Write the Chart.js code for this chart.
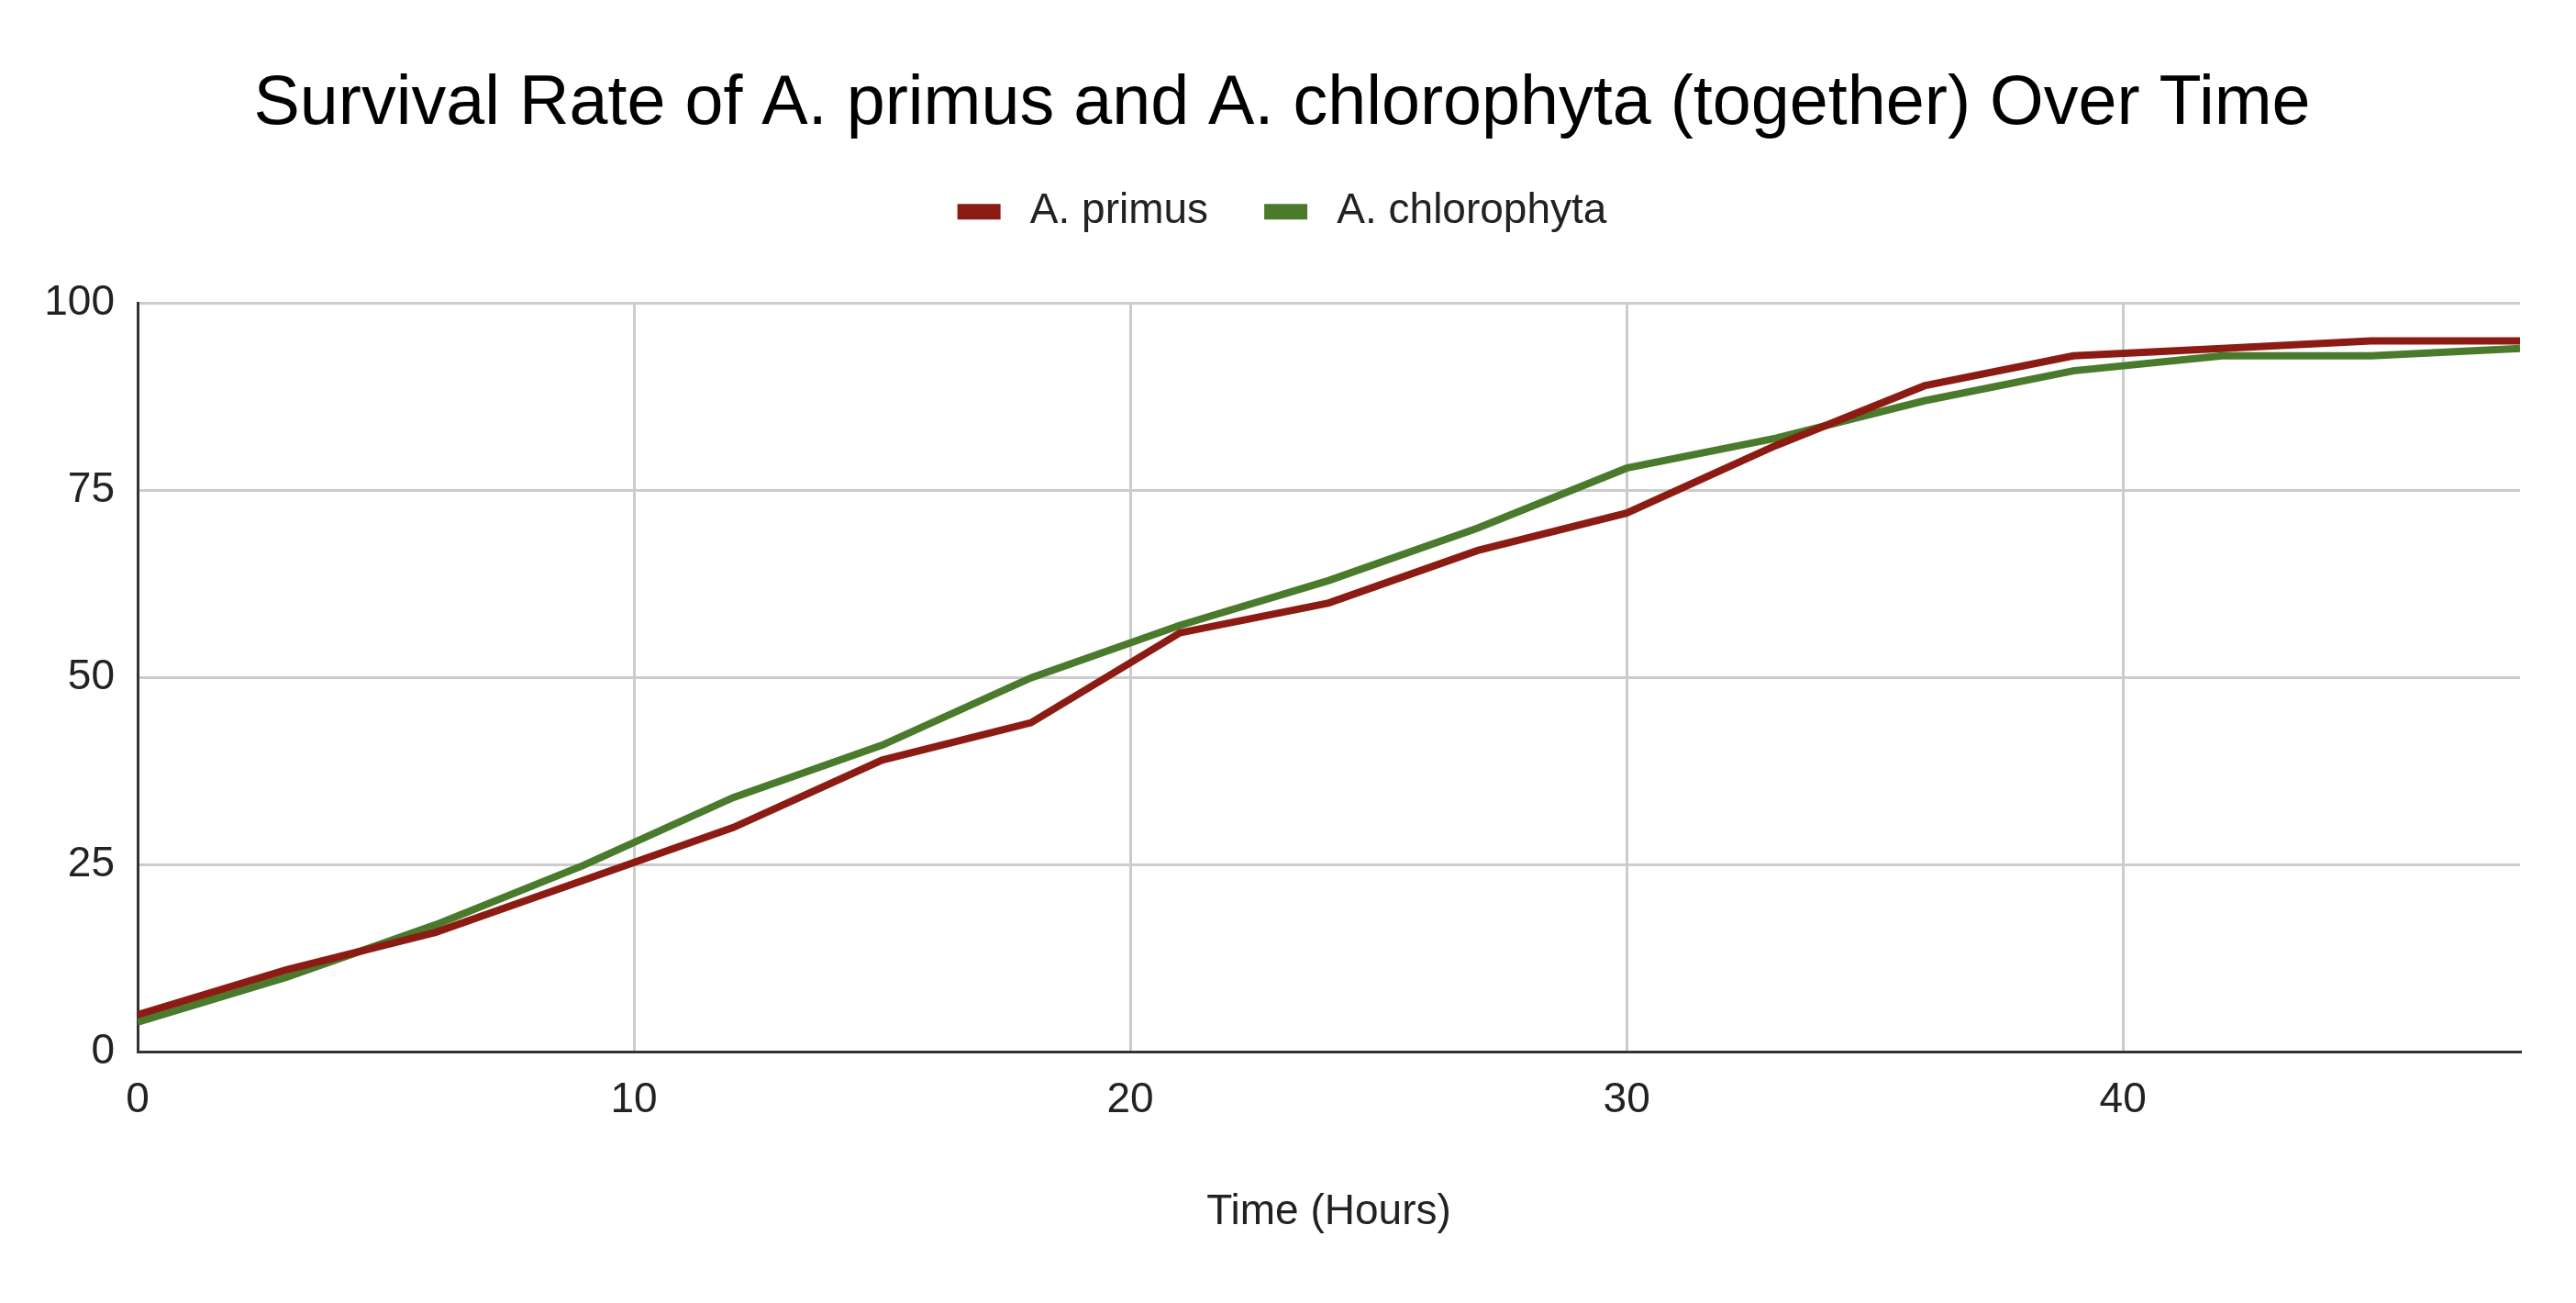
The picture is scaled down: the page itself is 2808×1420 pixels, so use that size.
<!DOCTYPE html>
<html>
<head>
<meta charset="utf-8">
<script src="https://cdn.jsdelivr.net/npm/chart.js@4/dist/chart.umd.min.js"></script>
<style>
  html, body { margin: 0; padding: 0; background: #ffffff; }
  #wrap { width: 2808px; height: 1420px; }
</style>
</head>
<body>
<div id="wrap"><canvas id="c" width="2808" height="1420"></canvas></div>
<script>
const hours = [0, 3, 6, 9, 12, 15, 18, 21, 24, 27, 30, 33, 36, 39, 42, 45, 48];
const primus = [5, 11, 16, 23, 30, 39, 44, 56, 60, 67, 72, 81, 89, 93, 94, 95, 95];
const chlorophyta = [4, 10, 17, 25, 34, 41, 50, 57, 63, 70, 78, 82, 87, 91, 93, 93, 94];
const seriesNames = ['A. primus', 'A. chlorophyta'];
const xTickValues = [0, 10, 20, 30, 40];
const yTickValues = [0, 25, 50, 75, 100];
const titleText = 'Survival Rate of A. primus and A. chlorophyta (together) Over Time';
const xTitleText = 'Time (Hours)';

const FONT = "'Liberation Sans', Arial, sans-serif";
const toPoints = (vals) => hours.map((h, i) => ({ x: h, y: vals[i] }));

const legendGap = {
  id: 'legendGap',
  beforeInit(chart) {
    const lg = chart.legend;
    const origFit = lg.fit;
    lg.fit = function () {
      origFit.call(this);
      this.height += 67;
    };
  }
};

new Chart(document.getElementById('c'), {
  type: 'line',
  data: {
    datasets: [
      {
        label: seriesNames[0],
        data: toPoints(primus),
        borderColor: '#8c1c13',
        backgroundColor: '#8c1c13',
        borderWidth: 8,
        pointRadius: 0,
        tension: 0,
        fill: false
      },
      {
        label: seriesNames[1],
        data: toPoints(chlorophyta),
        borderColor: '#4a7a2c',
        backgroundColor: '#4a7a2c',
        borderWidth: 8,
        pointRadius: 0,
        tension: 0,
        fill: false
      }
    ]
  },
  options: {
    responsive: false,
    devicePixelRatio: 1,
    animation: false,
    layout: { padding: { left: 48, right: 61, top: 0, bottom: 71 } },
    plugins: {
      title: {
        display: true,
        text: titleText,
        color: '#000000',
        font: { family: FONT, size: 75.5, weight: 'normal', lineHeight: 0.87 },
        padding: { top: 81, bottom: 0 }
      },
      legend: {
        display: true,
        position: 'top',
        align: 'center',
        labels: {
          color: '#222222',
          font: { family: FONT, size: 46 },
          boxWidth: 47,
          boxHeight: 17,
          padding: 61,
          generateLabels(chart) {
            return Chart.defaults.plugins.legend.labels.generateLabels(chart).map(l => ({
              ...l, text: '\u2009' + l.text, lineWidth: 0, fillStyle: l.strokeStyle
            }));
          }
        }
      },
      tooltip: { enabled: false }
    },
    scales: {
      x: {
        type: 'linear',
        min: 0,
        max: 48,
        afterBuildTicks(scale) {
          scale.ticks = xTickValues.map(v => ({ value: v }));
        },
        ticks: {
          color: '#222222',
          font: { family: FONT, size: 46 },
          padding: 25,
          maxRotation: 0,
          autoSkip: false
        },
        grid: { color: '#cccccc', lineWidth: 3, drawTicks: false },
        border: { display: true, color: '#333333', width: 3 },
        title: {
          display: true,
          text: xTitleText,
          color: '#222222',
          font: { family: FONT, size: 46 },
          padding: { top: 42, bottom: 0 }
        }
      },
      y: {
        min: 0,
        max: 100,
        afterBuildTicks(scale) {
          scale.ticks = yTickValues.map(v => ({ value: v }));
        },
        afterFit(scale) {
          scale.width = 102;
        },
        ticks: {
          color: '#222222',
          font: { family: FONT, size: 46 },
          padding: 25
        },
        grid: { color: '#cccccc', lineWidth: 3, drawTicks: false },
        border: { display: true, color: '#333333', width: 3 }
      }
    }
  },
  plugins: [legendGap]
});
</script>
</body>
</html>
